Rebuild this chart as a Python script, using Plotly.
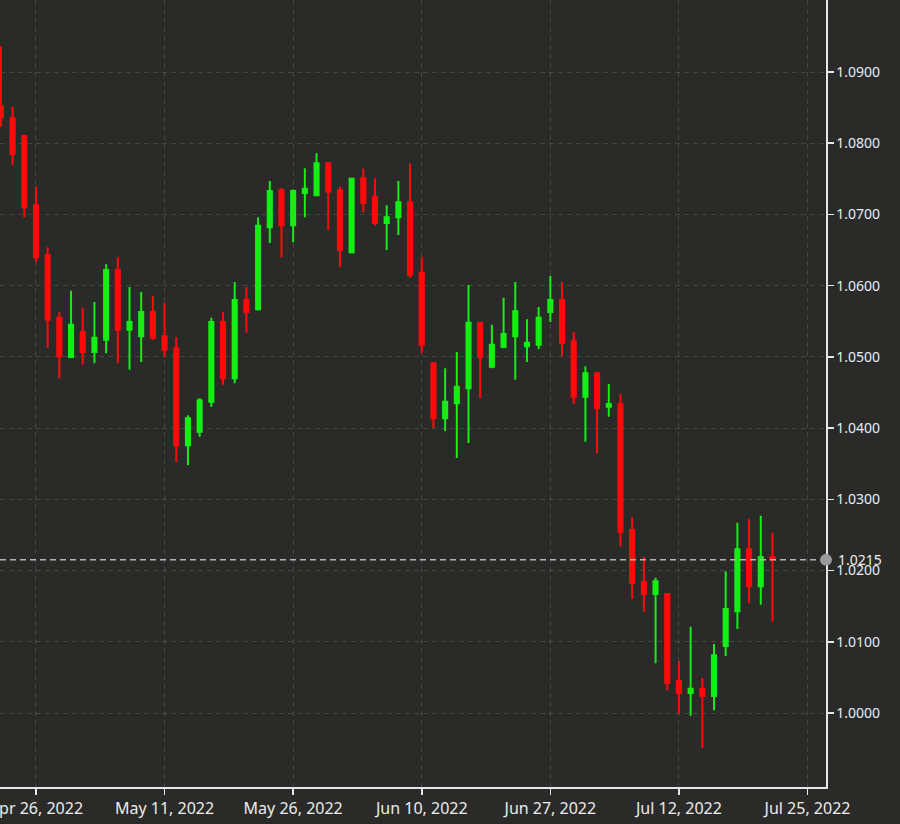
import pandas as pd
import plotly.graph_objects as go

# Daily EUR/USD candles, 21 Apr 2022 - 22 Jul 2022 (business days)
dates = [d.strftime("%Y-%m-%d") for d in pd.bdate_range("2022-04-21", "2022-07-22")]

opens = [1.0852, 1.0835, 1.0810, 1.0713, 1.0643, 1.0555, 1.0500, 1.0535, 1.0507, 1.0524,
         1.0622, 1.0538, 1.0529, 1.0563, 1.0529, 1.0512, 1.0376, 1.0395, 1.0437, 1.0549,
         1.0470, 1.0580, 1.0567, 1.0682, 1.0734, 1.0685, 1.0730, 1.0727, 1.0772, 1.0734,
         1.0647, 1.0751, 1.0725, 1.0688, 1.0696, 1.0717, 1.0618, 1.0491, 1.0414, 1.0435,
         1.0456, 1.0548, 1.0486, 1.0514, 1.0529, 1.0515, 1.0517, 1.0563, 1.0580, 1.0522,
         1.0444, 1.0477, 1.0430, 1.0434, 1.0257, 1.0184, 1.0167, 1.0167, 1.0045, 1.0028,
         1.0034, 1.0024, 1.0094, 1.0143, 1.0230, 1.0178, 1.0219]
highs = [1.0936, 1.0851, 1.0812, 1.0739, 1.0654, 1.0563, 1.0593, 1.0569, 1.0577, 1.0630,
         1.0640, 1.0598, 1.0591, 1.0586, 1.0576, 1.0528, 1.0418, 1.0442, 1.0555, 1.0563,
         1.0605, 1.0598, 1.0696, 1.0747, 1.0737, 1.0735, 1.0765, 1.0786, 1.0773, 1.0739,
         1.0751, 1.0764, 1.0751, 1.0713, 1.0747, 1.0772, 1.0640, 1.0493, 1.0484, 1.0507,
         1.0601, 1.0549, 1.0545, 1.0583, 1.0605, 1.0553, 1.0570, 1.0614, 1.0605, 1.0535,
         1.0487, 1.0478, 1.0462, 1.0448, 1.0275, 1.0219, 1.0190, 1.0168, 1.0073, 1.0121,
         1.0049, 1.0097, 1.0199, 1.0267, 1.0272, 1.0277, 1.0253]
lows = [1.0823, 1.0769, 1.0696, 1.0633, 1.0513, 1.0470, 1.0499, 1.0489, 1.0491, 1.0505,
        1.0491, 1.0482, 1.0493, 1.0524, 1.0500, 1.0352, 1.0348, 1.0388, 1.0430, 1.0461,
        1.0463, 1.0534, 1.0565, 1.0660, 1.0640, 1.0661, 1.0696, 1.0726, 1.0678, 1.0626,
        1.0645, 1.0703, 1.0684, 1.0650, 1.0671, 1.0611, 1.0505, 1.0400, 1.0396, 1.0358,
        1.0379, 1.0442, 1.0484, 1.0512, 1.0468, 1.0493, 1.0511, 1.0549, 1.0501, 1.0434,
        1.0381, 1.0365, 1.0416, 1.0234, 1.0160, 1.0142, 1.0070, 1.0032, 0.9999, 0.9996,
        0.9951, 1.0004, 1.0080, 1.0118, 1.0154, 1.0152, 1.0128]
closes = [1.0836, 1.0785, 1.0710, 1.0640, 1.0552, 1.0501, 1.0545, 1.0507, 1.0527, 1.0622,
          1.0538, 1.0549, 1.0563, 1.0527, 1.0510, 1.0376, 1.0414, 1.0439, 1.0549, 1.0470,
          1.0580, 1.0563, 1.0684, 1.0733, 1.0685, 1.0733, 1.0736, 1.0772, 1.0732, 1.0650,
          1.0750, 1.0716, 1.0688, 1.0696, 1.0717, 1.0615, 1.0517, 1.0414, 1.0437, 1.0458,
          1.0548, 1.0500, 1.0517, 1.0532, 1.0564, 1.0520, 1.0555, 1.0580, 1.0520, 1.0444,
          1.0477, 1.0428, 1.0434, 1.0254, 1.0183, 1.0167, 1.0185, 1.0042, 1.0028, 1.0034,
          1.0024, 1.0081, 1.0146, 1.0230, 1.0178, 1.0219, 1.0215]

last_price = 1.0215
x_tick_labels = ["Apr 26, 2022", "May 11, 2022", "May 26, 2022", "Jun 10, 2022",
                 "Jun 27, 2022", "Jul 12, 2022", "Jul 25, 2022"]
y_tick_values = [1.00, 1.01, 1.02, 1.03, 1.04, 1.05, 1.06, 1.07, 1.08, 1.09]

# positions: bar index (trading-day scale), labels every 11 bars starting at Apr 26
x_pos = list(range(len(dates)))
first_tick = dates.index("2022-04-26")
tick_step = 11
x_tick_pos = [first_tick + k * tick_step for k in range(len(x_tick_labels))]

BG = "#2a2b29"
GRID = "rgba(255,255,255,0.13)"
AXIS = "#e6e6e6"
TXT = "#ececec"
RED = "#ff0a0a"
GREEN = "#14ee14"

fig = go.Figure()
fig.add_trace(go.Candlestick(
    x=x_pos, open=opens, high=highs, low=lows, close=closes,
    increasing=dict(line=dict(color=GREEN, width=2), fillcolor=GREEN),
    decreasing=dict(line=dict(color=RED, width=2), fillcolor=RED),
    whiskerwidth=0, showlegend=False, hoverinfo="skip",
))

fig.update_layout(
    width=900, height=824,
    margin=dict(l=0, r=74, t=0, b=37, autoexpand=False),
    paper_bgcolor=BG, plot_bgcolor=BG,
    boxgap=0.5,
    font=dict(family="Noto Sans", size=14, color=TXT),
    showlegend=False,
    xaxis=dict(
        range=[-0.077, 70.58],
        rangeslider=dict(visible=False),
        tickmode="array", tickvals=x_tick_pos, ticktext=x_tick_labels,
        ticklabeloverflow="allow",
        automargin=False,
        showgrid=True, gridcolor=GRID, griddash="5px,4px", gridwidth=1,
        zeroline=False,
        showline=True, linecolor=AXIS, linewidth=1.5,
        ticks="outside", ticklen=6, tickcolor=AXIS, tickwidth=1.5,
        tickfont=dict(size=16, color=TXT),
    ),
    yaxis=dict(
        side="right",
        range=[0.98961, 1.10011],
        tickmode="array", tickvals=y_tick_values,
        tickformat=".4f",
        automargin=False,
        showgrid=True, gridcolor=GRID, griddash="5px,4px", gridwidth=1,
        zeroline=False,
        showline=True, linecolor=AXIS, linewidth=1.5,
        ticks="outside", ticklen=6, tickcolor=AXIS, tickwidth=1.5,
        tickfont=dict(size=14, color=TXT),
    ),
    shapes=[
        dict(type="line", xref="paper", x0=0, x1=1, yref="y", y0=last_price, y1=last_price,
             line=dict(color="#b5b5b5", width=1.5, dash="6px,4px"), layer="above"),
        dict(type="circle", xref="paper", xsizemode="pixel", xanchor=1, x0=-6, x1=6,
             yref="y", ysizemode="pixel", yanchor=last_price, y0=-6, y1=6,
             fillcolor="#9a9a9a", line=dict(width=0), layer="above"),
    ],
    annotations=[
        dict(x=1, xref="paper", y=last_price, yref="y", text=f"{last_price:.4f}",
             showarrow=False, xanchor="left", xshift=10, yanchor="middle",
             font=dict(size=14, color=TXT)),
    ],
)

fig.write_html(
    "out.html",
    config={"displayModeBar": False, "staticPlot": True},
    post_script="document.body.style.margin='0';document.body.style.overflow='hidden';"
                "document.body.style.background='" + BG + "';",
)
